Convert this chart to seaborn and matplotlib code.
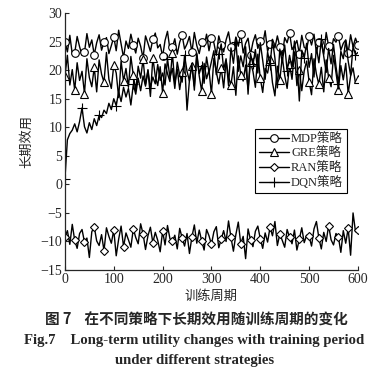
import numpy as np
import pandas as pd
import matplotlib
matplotlib.use("Agg")
import matplotlib.pyplot as plt
import seaborn as sns

# long-term utility per training period (sampled every 5 periods)
step = 5
mdp = [25.0, 23.2, 26.1, 22.8, 23.0, 25.9, 24.1, 22.6, 23.1, 26.4,
       24.0, 25.3, 22.7, 24.8, 26.2, 23.5, 24.9, 25.7, 22.9, 24.3,
       25.8, 23.4, 27.0, 24.6, 22.2, 25.1, 23.8, 26.3, 24.4, 23.0,
       25.6, 24.2, 22.1, 26.0, 24.7, 23.3, 25.4, 26.5, 23.9, 24.5,
       22.4, 25.2, 26.8, 23.6, 24.0, 25.5, 22.8, 24.9, 26.1, 23.7,
       24.6, 25.9, 23.1, 26.6, 24.3, 22.9, 25.0, 24.1, 26.3, 23.4,
       25.7, 24.8, 22.6, 26.0, 24.4, 23.2, 25.3, 26.7, 24.0, 23.5,
       25.8, 24.2, 26.4, 23.0, 24.7, 25.6, 22.7, 24.9, 26.2, 23.8,
       25.1, 24.5, 26.9, 23.3, 24.6, 25.4, 23.9, 26.0, 24.1, 22.5,
       25.7, 24.8, 26.5, 23.6, 24.3, 25.2, 22.9, 26.1, 24.0, 23.7,
       25.9, 24.4, 26.3, 23.1, 25.0, 24.6, 22.8, 26.6, 24.2, 23.4,
       25.5, 24.9, 26.0, 23.5, 24.7, 25.3, 23.0, 26.2, 24.1, 25.6,
       24.4]
gre = [19.0, 22.6, 17.4, 20.1, 16.5, 21.3, 18.2, 19.8, 15.9, 22.0,
       18.7, 17.1, 20.5, 16.2, 21.8, 19.3, 17.9, 23.1, 18.4, 16.8,
       20.9, 19.5, 15.2, 21.6, 18.1, 20.3, 17.0, 22.4, 19.1, 16.4,
       20.7, 18.6, 21.9, 17.5, 19.9, 15.4, 22.2, 18.9, 17.3, 20.6,
       16.0, 21.1, 19.4, 18.0, 23.0, 17.7, 20.2, 16.6, 19.6, 21.5,
       13.0, 18.3, 20.8, 17.2, 22.7, 19.0, 16.3, 21.2, 18.5, 20.0,
       15.8, 22.1, 19.7, 17.6, 20.4, 16.9, 21.7, 18.8, 17.4, 20.6,
       15.6, 22.5, 19.2, 18.1, 20.9, 16.7, 21.4, 19.8, 17.0, 22.8,
       18.6, 16.1, 20.3, 19.5, 21.9, 17.8, 15.5, 20.7, 18.2, 22.3,
       19.1, 16.8, 21.0, 18.4, 23.2, 17.3, 20.1, 16.4, 19.9, 21.6,
       18.0, 15.7, 22.0, 19.3, 17.5, 20.5, 16.2, 21.8, 18.7, 17.1,
       22.6, 19.6, 16.6, 20.8, 18.3, 21.2, 15.9, 19.0, 20.4, 17.7,
       18.5]
ran = [-9.2, -8.1, -10.5, -7.0, -9.8, -11.2, -8.6, -7.9, -10.1, -9.4,
       -12.8, -8.3, -7.4, -9.9, -10.7, -8.8, -11.6, -7.6, -9.1, -10.3,
       -8.0, -12.5, -9.6, -7.3, -10.9, -8.5, -9.7, -11.0, -7.8, -9.3,
       -10.4, -6.9, -8.7, -11.4, -9.0, -7.5, -10.2, -8.4, -9.8, -11.8,
       -8.2, -10.6, -7.2, -9.5, -10.0, -8.9, -11.3, -7.7, -9.4, -10.8,
       -8.6, -12.1, -9.2, -7.1, -10.3, -8.0, -9.9, -11.5, -7.9, -9.0,
       -10.5, -8.3, -7.4, -11.1, -9.6, -8.1, -10.0, -6.4, -9.3, -11.7,
       -8.8, -6.6, -10.4, -9.1, -13.0, -7.8, -9.7, -10.9, -8.2, -7.3,
       -9.5, -11.2, -8.5, -10.1, -7.5, -9.0, -6.5, -10.7, -8.7, -9.8,
       -11.0, -7.9, -9.3, -10.4, -8.0, -11.5, -9.6, -7.6, -10.2, -8.9,
       -9.1, -10.8, -7.8, -6.5, -9.4, -11.3, -8.4, -10.0, -7.2, -9.7,
       -10.6, -8.6, -9.2, -11.9, -8.1, -10.3, -7.7, -12.4, -5.0, -8.3,
       -8.0]
dqn = [1.0, 7.8, 8.9, 9.5, 10.6, 9.2, 11.0, 13.4, 10.1, 9.0,
       10.8, 9.6, 11.5, 10.3, 12.1, 11.7, 13.0, 12.4, 14.2, 13.1,
       15.0, 13.8, 16.2, 14.5, 17.0, 15.3, 16.8, 13.9, 17.5, 15.8,
       18.6, 16.4, 19.0, 17.2, 20.1, 16.9, 18.8, 17.6, 21.0, 18.2,
       19.5, 17.4, 22.0, 18.7, 20.3, 16.8, 21.4, 19.1, 17.9, 22.6,
       19.8, 18.1, 21.2, 16.5, 23.0, 19.4, 20.8, 17.7, 22.3, 19.6,
       21.5, 23.4, 19.2, 22.8, 24.6, 20.1, 22.0, 17.3, 23.9, 21.2,
       25.0, 19.8, 22.5, 20.6, 24.1, 15.8, 22.9, 21.0, 23.6, 19.5,
       24.8, 21.7, 18.4, 23.2, 20.9, 25.3, 22.1, 16.9, 23.7, 21.4,
       24.4, 19.9, 22.6, 20.3, 25.1, 21.8, 14.6, 23.5, 22.2, 24.7,
       20.5, 22.9, 18.8, 24.0, 21.3, 25.4, 22.4, 19.6, 23.8, 21.1,
       24.5, 20.7, 17.6, 23.3, 22.0, 25.2, 21.6, 19.1, 24.2, 22.7,
       23.1]

labels = ["MDP策略", "GRE策略", "RAN策略", "DQN策略"]
series = [mdp, gre, ran, dqn]
markers = ["o", "^", "D", "+"]
msizes = [5.5, 6, 4.5, 7]
mevery = [4, 4, 4, 7]

SERIF = ["Liberation Serif", "Noto Sans CJK SC"]
CJK = ["Noto Sans CJK SC", "DejaVu Sans"]

sns.set_style("ticks")
plt.rcParams["font.family"] = SERIF
plt.rcParams["axes.unicode_minus"] = True

fig = plt.figure(figsize=(3.82, 3.73), dpi=100)
ax = fig.add_axes([0.170, 0.276, 0.767, 0.689])

frames = []
for lab, vals in zip(labels, series):
    frames.append(pd.DataFrame({"epoch": np.arange(len(vals)) * step,
                                "utility": vals, "strategy": lab}))
df = pd.concat(frames, ignore_index=True)

for lab, mk, ms, me in zip(labels, markers, msizes, mevery):
    sub = df[df["strategy"] == lab]
    sns.lineplot(data=sub, x="epoch", y="utility", ax=ax, color="black",
                 lw=1.0, marker=mk, markersize=ms, markevery=me,
                 markerfacecolor="white", markeredgecolor="black",
                 markeredgewidth=0.8, label=lab)

ax.set_xlim(0, 600)
ax.set_ylim(-15, 30)
ax.set_xticks(range(0, 601, 100))
ax.set_yticks(range(-15, 31, 5))
ax.tick_params(direction="in", length=3, width=0.8, labelsize=10, pad=2)
for s in ["top", "right"]:
    ax.spines[s].set_visible(False)
for s in ["left", "bottom"]:
    ax.spines[s].set_linewidth(0.9)
ax.set_xlabel("训练周期", family=CJK, fontsize=9.5, labelpad=3)
ax.set_ylabel("长期效用", family=CJK, fontsize=9.5, labelpad=5)

leg = ax.legend(loc="upper left", bbox_to_anchor=(0.648, 0.548),
                fontsize=9, frameon=True, fancybox=False, edgecolor="black",
                framealpha=1, handlelength=2.4, handletextpad=0.2,
                labelspacing=0.2, borderpad=0.3, borderaxespad=0)
leg.get_frame().set_linewidth(0.8)

fig.text(0.515, 0.142, "图 7    在不同策略下长期效用随训练周期的变化",
         family=CJK, fontsize=10.5, weight="bold", ha="center", va="center")
fig.text(0.507, 0.088, "Fig.7    Long-term utility changes with training period",
         family=SERIF, fontsize=10.6, weight="bold", ha="center", va="center")
fig.text(0.51, 0.033, "under different strategies",
         family=SERIF, fontsize=10.6, weight="bold", ha="center", va="center")

fig.savefig("out.png", dpi=100)
